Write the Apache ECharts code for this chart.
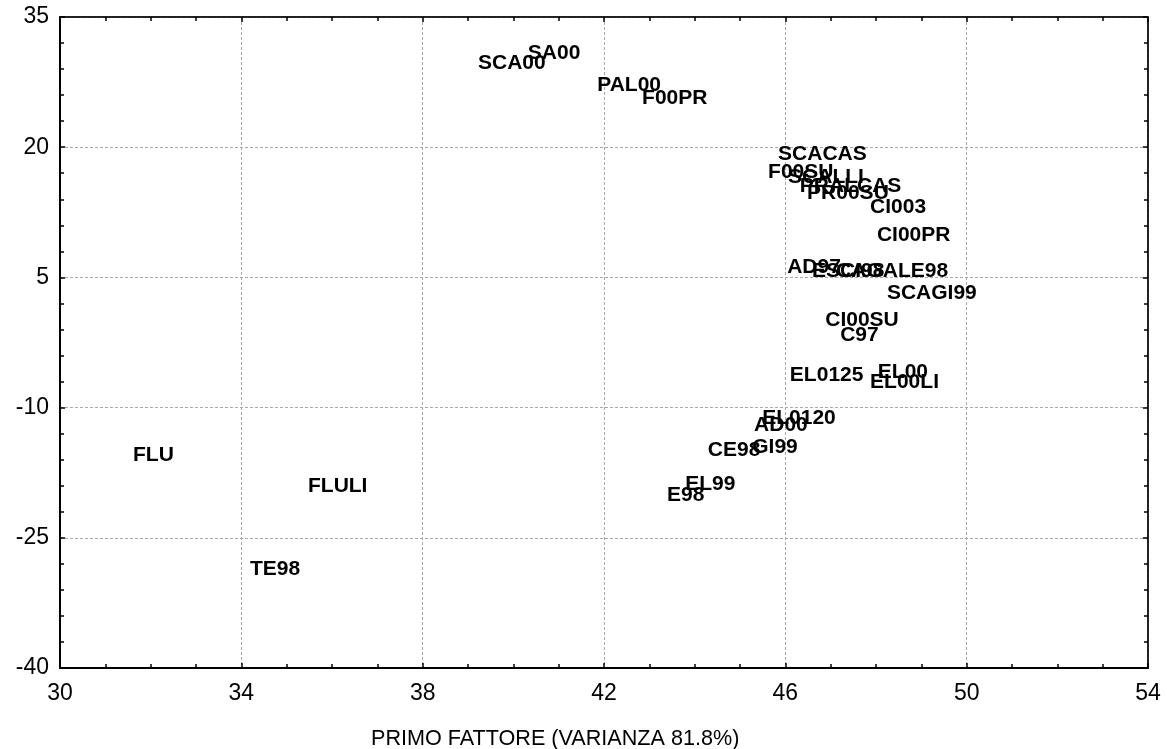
<!DOCTYPE html>
<html>
<head>
<meta charset="utf-8">
<script src="https://cdn.jsdelivr.net/npm/echarts@6/dist/echarts.min.js"></script>
<style>
  html, body { margin: 0; padding: 0; background: #fff; }
  #chart { width: 1167px; height: 749px; }
</style>
</head>
<body>
<div id="chart"></div>
<script>
// Case labels and their scores on the first factor (x) and second factor (y)
const labels = [
  'SCA00', 'SA00', 'PAL00', 'F00PR',
  'SCACAS', 'F00SU', 'SCALLI', 'PRALCAS', 'PR00SU', 'CI003', 'CI00PR',
  'AD97', 'ESCI98', 'CAGALE98', 'SCAGI99', 'CI00SU', 'C97',
  'EL0125', 'EL00', 'EL00LI',
  'EL0120', 'AD00', 'GI99', 'CE98', 'EL99', 'E98',
  'FLU', 'FLULI', 'TE98'
];
const factor1 = [
  39.22, 40.32, 41.85, 42.84,
  45.84, 45.62, 46.06, 46.32, 46.48, 47.87, 48.02,
  46.04, 46.59, 47.12, 48.24, 46.88, 47.21,
  46.10, 48.04, 47.87,
  45.49, 45.31, 45.27, 44.29, 43.79, 43.39,
  31.61, 35.47, 34.19
];
const factor2 = [
  29.69, 30.85, 27.15, 25.65,
  19.19, 17.12, 16.54, 15.50, 14.69, 13.08, 9.85,
  6.15, 5.69, 5.69, 3.15, 0.04, -1.69,
  -6.31, -5.96, -7.11,
  -11.27, -12.08, -14.61, -14.96, -18.77, -20.15,
  -15.54, -19.00, -28.58
];

// Axis ranges and tick steps
const xMin = 30, xMax = 54, xStep = 4;
const yMin = -40, yMax = 35, yStep = 15;
const xTitle = 'PRIMO FATTORE (VARIANZA 81.8%)';

const points = labels.map((name, i) => ({ name: name, value: [factor1[i], factor2[i]] }));

const FONT = '"Liberation Sans", Arial, sans-serif';

function makeAxis(base, extra) {
  return Object.assign({
    type: 'value',
    min: base.min, max: base.max, interval: base.interval,
    axisLine: { show: true, onZero: false, lineStyle: { color: '#000', width: 2 } },
    axisTick: { show: true, inside: true, length: 5, lineStyle: { color: '#000', width: 1.5 } },
    minorTick: { show: true, splitNumber: base.minor, length: 4, lineStyle: { color: '#000', width: 1.5 } },
    axisLabel: { show: true, color: '#000', fontFamily: FONT, fontSize: 23, margin: 11 },
    splitLine: { show: false },
    minorSplitLine: { show: false }
  }, extra);
}

const chart = echarts.init(document.getElementById('chart'), null, { renderer: 'canvas' });
chart.setOption({
  backgroundColor: '#fff',
  animation: false,
  grid: {
    left: 60, right: 19, top: 17, bottom: 81,
    show: true, borderColor: '#000', borderWidth: 1, backgroundColor: 'transparent'
  },
  title: {
    text: xTitle,
    left: 366, top: 723,
    textStyle: { fontFamily: FONT, fontSize: 21.6, fontWeight: 'normal', color: '#000' }
  },
  xAxis: [
    makeAxis({ min: xMin, max: xMax, interval: xStep, minor: 4 }, {
      position: 'bottom',
      axisLabel: { show: true, color: '#000', fontFamily: FONT, fontSize: 23, margin: 14 },
      splitLine: { show: true, lineStyle: { color: '#a8a8a8', type: [3, 2], width: 1 } }
    }),
    makeAxis({ min: xMin, max: xMax, interval: xStep, minor: 4 }, {
      position: 'top',
      axisLine: { show: true, onZero: false, lineStyle: { color: '#000', width: 1.5 } },
      axisLabel: { show: false }
    })
  ],
  yAxis: [
    makeAxis({ min: yMin, max: yMax, interval: yStep, minor: 5 }, {
      position: 'left',
      splitLine: { show: true, lineStyle: { color: '#a8a8a8', type: [3, 2], width: 1 } }
    }),
    makeAxis({ min: yMin, max: yMax, interval: yStep, minor: 5 }, {
      position: 'right',
      axisLine: { show: true, onZero: false, lineStyle: { color: '#000', width: 1.5 } },
      axisLabel: { show: false }
    })
  ],
  series: [{
    type: 'scatter',
    xAxisIndex: 0,
    yAxisIndex: 0,
    data: points,
    symbolSize: 0,
    itemStyle: { color: '#000', opacity: 1 },
    label: {
      show: true,
      position: 'right',
      distance: 0,
      formatter: p => p.name,
      color: '#000',
      opacity: 1,
      fontFamily: FONT,
      fontSize: 21,
      fontWeight: 'bold'
    },
    labelLayout: { hideOverlap: false },
    emphasis: { disabled: true }
  }]
});
</script>
</body>
</html>
